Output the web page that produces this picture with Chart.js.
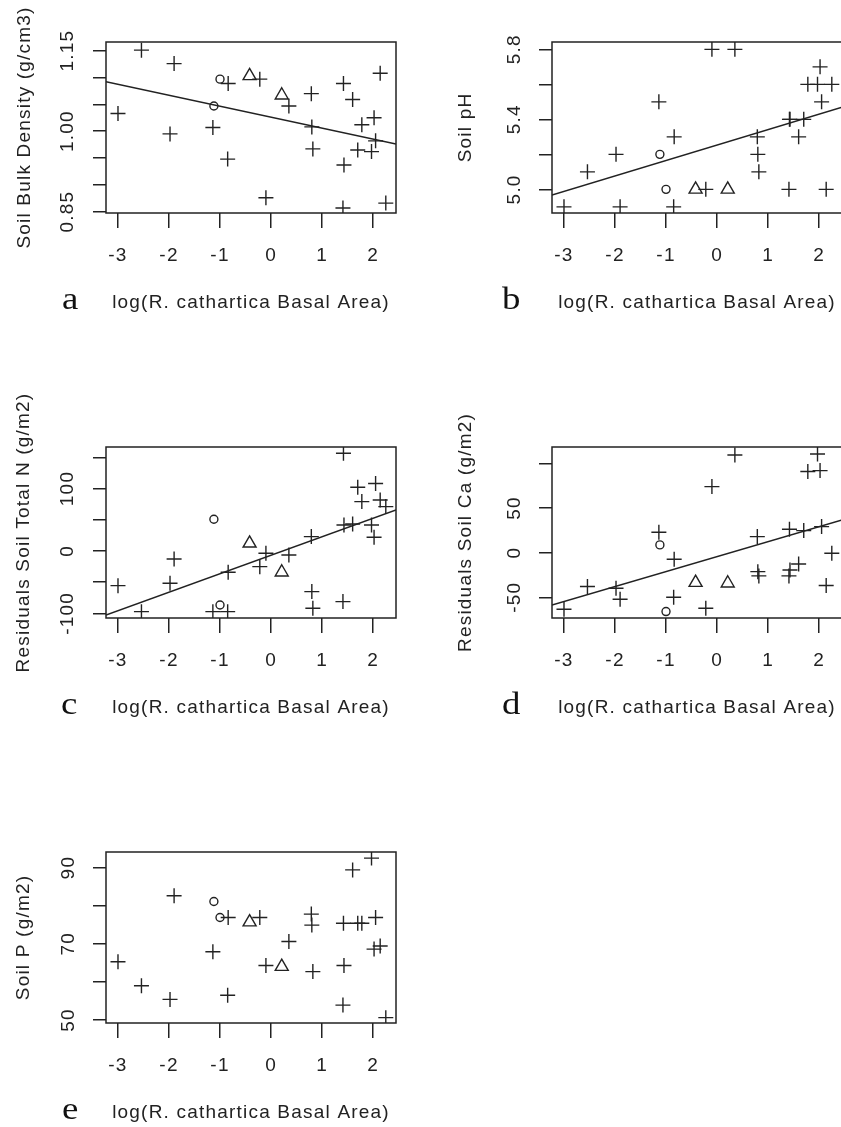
<!DOCTYPE html>
<html>
<head>
<meta charset="utf-8">
<title>Soil properties vs R. cathartica basal area</title>
<script src="https://cdn.jsdelivr.net/npm/chart.js@4.4.1/dist/chart.umd.min.js"></script>
<style>
  html, body { margin: 0; padding: 0; background: #fff; overflow: hidden; }
  body { width: 841px; height: 1127px; position: relative; }
  canvas { position: absolute; }
  .tag {
    position: absolute;
    font: 32px "Liberation Serif", "Times New Roman", serif;
    line-height: 32px;
    color: #111;
    transform: scaleX(1.15);
    transform-origin: left top;
  }
</style>
</head>
<body>
<canvas id="chart-a" width="440" height="360" style="left:0;top:-30px"></canvas>
<canvas id="chart-b" width="440" height="360" style="left:446px;top:-30px"></canvas>
<canvas id="chart-c" width="440" height="360" style="left:0;top:375px"></canvas>
<canvas id="chart-d" width="440" height="360" style="left:446px;top:375px"></canvas>
<canvas id="chart-e" width="440" height="360" style="left:0;top:780px"></canvas>

<div class="tag" style="left:62px;top:282px">a</div>
<div class="tag" style="left:502px;top:282px">b</div>
<div class="tag" style="left:61px;top:687px">c</div>
<div class="tag" style="left:502px;top:687px">d</div>
<div class="tag" style="left:62px;top:1092px">e</div>

<script>
(function () {
  'use strict';

  // ============ data ============

  // log(basal area) per plot, shared by all five panels
  const logBasal = [-3.00, -2.54, -1.98, -1.90, -1.14, -1.12, -1.00, -0.85, -0.84, -0.42,
                    -0.22, -0.10, 0.21, 0.35, 0.79, 0.80, 0.82, 1.41, 1.42, 1.43,
                    1.60, 1.70, 1.78, 1.97, 2.02, 2.05, 2.14, 2.25];
  // marker per plot: 0 = +, 1 = o, 2 = triangle
  const plotType = [0, 0, 0, 0, 0, 1, 1, 0, 0, 2,
                    0, 0, 2, 0, 0, 0, 0, 0, 0, 0,
                    0, 0, 0, 0, 0, 0, 0, 0];

  const bulkDensity = [1.033, 1.151, 0.995, 1.126, 1.007, 1.047, 1.097, 0.948, 1.089, 1.103,
                       1.097, 0.876, 1.067, 1.047, 1.070, 1.008, 0.967, 0.857, 1.089, 0.937,
                       1.059, 0.965, 1.012, 0.962, 1.025, 0.982, 1.108, 0.866];
  const soilPH = [4.9, 5.1, 5.2, 4.9, 5.5, 5.2, 5.0, 4.9, 5.3, 5.0,
                  5.0, 5.8, 5.0, 5.8, 5.3, 5.2, 5.1, 5.0, 5.4, 5.4,
                  5.3, 5.4, 5.6, 5.6, 5.7, 5.5, 5.0, 5.6];
  const residN = [-55.7, -97.3, -51.9, -12.9, -97.3, 50.7, -86.6, -97.3, -34.2, 12.2,
                  -25.2, -3.8, -34.2, -6.5, 22.9, -65.2, -91.9, -81.2, 156.4, 41.6,
                  43.2, 102, 79, 41.6, 21.8, 108, 81.6, 71];
  const residCa = [-63.4, -38, -39.9, -52.2, 22.8, 8.6, -66, -50, -7.5, -33.6,
                   -62.3, 73.9, -34.3, 109.3, 17.9, -21.3, -26.1, -26.1, 26.1, -19.4,
                   -12.7, 24.6, 90.7, 110.4, 91.8, 29.1, -36.9, -0.7];
  const soilP = [65.3, 59.0, 55.4, 82.6, 67.9, 81.1, 76.9, 56.5, 76.9, 75.7,
                 76.9, 64.3, 64.0, 70.6, 77.8, 74.9, 62.7, 53.9, 75.4, 64.3,
                 89.4, 75.4, 75.4, 92.5, 68.6, 76.9, 69.4, 50.6];

  // fitted lines: [intercept, slope]
  const bulkFit = [1.026, -0.0204];
  const phFit = [5.253, 0.0882];
  const nFit = [-6.9, 29.6];
  const caFit = [-4.4, 16.75];

  // axis limits
  const xRange = [-3.235, 2.45];
  const bulkRange = [0.8476, 1.1662];
  const phRange = [4.865, 5.842];
  const nRange = [-107.5, 166.5];
  const caRange = [-73.2, 118.2];
  const pRange = [49.2, 94.1];

  // tick marks and which of them carry a label
  const xTicks = [-3, -2, -1, 0, 1, 2];
  const bulkTicks = [0.85, 0.90, 0.95, 1.00, 1.05, 1.10, 1.15];
  const bulkShown = [0.85, 1.00, 1.15];
  const phTicks = [5.0, 5.2, 5.4, 5.6, 5.8];
  const phShown = [5.0, 5.4, 5.8];
  const nTicks = [-100, -50, 0, 50, 100, 150];
  const nShown = [-100, 0, 100];
  const caTicks = [-50, 0, 50, 100];
  const caShown = [-50, 0, 50];
  const pTicks = [50, 60, 70, 80, 90];
  const pShown = [50, 70, 90];

  const X_TITLE = 'log(R. cathartica Basal Area)';

  // ============ style ============

  const INK = '#222';
  const FONT = { family: '"Liberation Sans", Arial, sans-serif', size: 19 };

  /** wider glyph spacing for all chart text */
  const spacingPlugin = {
    id: 'spacing',
    beforeUpdate: function (chart) { chart.ctx.letterSpacing = '1.2px'; },
    beforeDraw: function (chart) { chart.ctx.letterSpacing = '1.2px'; }
  };

  /** plot box round the chart area */
  const framePlugin = {
    id: 'frame',
    afterDatasetsDraw: function (chart) {
      const a = chart.chartArea;
      const ctx = chart.ctx;
      ctx.save();
      ctx.strokeStyle = INK;
      ctx.lineWidth = 1.5;
      ctx.strokeRect(a.left, a.top, a.right - a.left, a.bottom - a.top);
      ctx.restore();
    }
  };

  function pointSet(points, style, radius) {
    return {
      data: points,
      pointStyle: style,
      pointRadius: radius,
      pointHoverRadius: radius,
      pointBorderWidth: 1.4,
      pointBorderColor: INK,
      pointBackgroundColor: 'rgba(0,0,0,0)',
      showLine: false
    };
  }

  function makePanel(p) {
    const canvas = document.querySelector('#' + p.id);
    if (!canvas) return null;

    const groups = [[], [], []];
    logBasal.forEach(function (x, i) {
      groups[plotType[i]].push({ x: x, y: p.y[i] });
    });

    const datasets = [
      pointSet(groups[0], 'cross', 7.5),
      pointSet(groups[1], 'circle', 4),
      pointSet(groups[2], 'triangle', 7.5)
    ];

    if (p.fit) {
      datasets.push({
        data: xRange.map(function (x) { return { x: x, y: p.fit[0] + p.fit[1] * x }; }),
        showLine: true,
        borderColor: INK,
        borderWidth: 1.5,
        pointRadius: 0,
        fill: false
      });
    }

    return new Chart(canvas.getContext('2d'), {
      type: 'scatter',
      data: { datasets: datasets },
      plugins: [spacingPlugin, framePlugin],
      options: {
        responsive: false,
        animation: false,
        events: [],
        layout: { padding: { left: 0, top: 72, right: 44, bottom: 0 } },
        plugins: { legend: { display: false }, tooltip: { enabled: false } },
        scales: {
          x: {
            type: 'linear',
            min: xRange[0],
            max: xRange[1],
            afterBuildTicks: function (s) { s.ticks = xTicks.map(function (v) { return { value: v }; }); },
            afterFit: function (s) { s.height = 117; },
            border: { display: false },
            grid: { drawOnChartArea: false, drawTicks: true, tickLength: 15, color: INK, lineWidth: 1.5 },
            ticks: {
              color: INK, font: FONT, padding: 16.5,
              minRotation: 0, maxRotation: 0, autoSkip: false,
              callback: function (v) { return String(v); }
            },
            title: { display: true, text: X_TITLE, color: INK, font: FONT, padding: { top: 0, bottom: 16 } }
          },
          y: {
            type: 'linear',
            min: p.range[0],
            max: p.range[1],
            afterBuildTicks: function (s) { s.ticks = p.ticks.map(function (v) { return { value: v }; }); },
            afterFit: function (s) { s.width = 106; },
            border: { display: false },
            grid: { drawOnChartArea: false, drawTicks: true, tickLength: 13, color: INK, lineWidth: 1.5 },
            ticks: {
              color: INK, font: FONT, padding: p.tickPad,
              minRotation: 90, maxRotation: 90, crossAlign: 'center', autoSkip: false,
              callback: function (v) {
                const shown = p.shown.some(function (s) { return Math.abs(s - v) < 1e-9; });
                return shown ? v.toFixed(p.digits) : '';
              }
            },
            title: { display: true, text: p.title, color: INK, font: FONT, padding: { top: p.titlePad, bottom: 0 } }
          }
        }
      }
    });
  }

  const panels = [
    { id: 'chart-a', y: bulkDensity, range: bulkRange, ticks: bulkTicks, shown: bulkShown, digits: 2,
      fit: bulkFit, title: 'Soil Bulk Density (g/cm3)', tickPad: 4, titlePad: 13.5 },
    { id: 'chart-b', y: soilPH, range: phRange, ticks: phTicks, shown: phShown, digits: 1,
      fit: phFit, title: 'Soil pH', tickPad: 9, titlePad: 8.6 },
    { id: 'chart-c', y: residN, range: nRange, ticks: nTicks, shown: nShown, digits: 0,
      fit: nFit, title: 'Residuals Soil Total N (g/m2)', tickPad: 4, titlePad: 12.6 },
    { id: 'chart-d', y: residCa, range: caRange, ticks: caTicks, shown: caShown, digits: 0,
      fit: caFit, title: 'Residuals Soil Ca (g/m2)', tickPad: 9, titlePad: 8.6 },
    { id: 'chart-e', y: soilP, range: pRange, ticks: pTicks, shown: pShown, digits: 0,
      fit: null, title: 'Soil P (g/m2)', tickPad: 12, titlePad: 12.6 }
  ];

  panels.forEach(makePanel);
})();
</script>
</body>
</html>
